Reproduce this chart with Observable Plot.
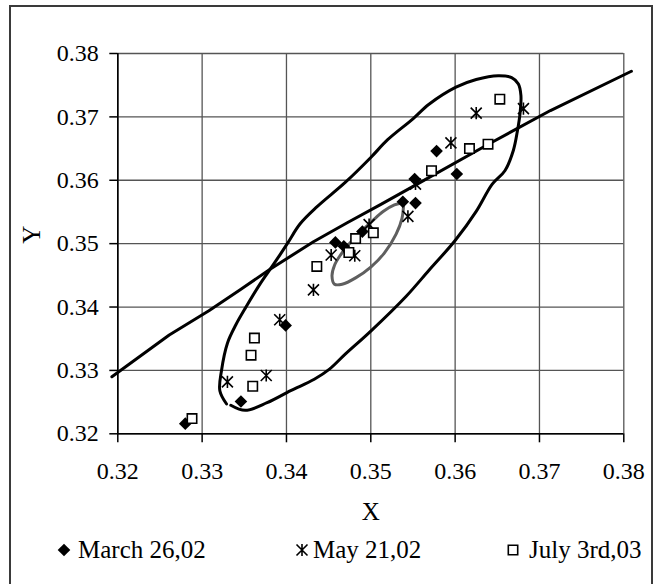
<!DOCTYPE html>
<html>
<head>
<meta charset="utf-8">
<script src="https://cdn.jsdelivr.net/npm/d3@7"></script>
<script src="https://cdn.jsdelivr.net/npm/@observablehq/plot@0.6"></script>
<style>
  html, body { margin: 0; padding: 0; background: #fff; }
  #wrap { position: relative; width: 654px; height: 584px; overflow: hidden; background: #fff; }
  #chart { position: absolute; left: 0; top: 0; }
  #legend { position: absolute; left: 0; top: 530px; }
  #border { position: absolute; left: 9px; top: 5px; width: 640px; height: 620px; border: 2px solid #3a3a3a; pointer-events: none; }
</style>
</head>
<body>
<div id="wrap">
  <div id="chart"></div>
  <svg id="legend" width="654" height="54"></svg>
  <div id="border"></div>
</div>
<script>
// ---- data ----
const xTicks = [0.32, 0.33, 0.34, 0.35, 0.36, 0.37, 0.38];
const yTicks = [0.32, 0.33, 0.34, 0.35, 0.36, 0.37, 0.38];
const seriesNames = ["March 26,02", "May 21,02", "July 3rd,03"];

const marchX = [0.3280, 0.3346, 0.3399, 0.3458, 0.3468, 0.3490, 0.3538, 0.3553, 0.3552, 0.3578, 0.3602];
const marchY = [0.3216, 0.3251, 0.3371, 0.3502, 0.3496, 0.3519, 0.3566, 0.3564, 0.3602, 0.3646, 0.3610];

const mayX = [0.3330, 0.3376, 0.3392, 0.3432, 0.3453, 0.3481, 0.3498, 0.3544, 0.3553, 0.3595, 0.3625, 0.3681];
const mayY = [0.3282, 0.3292, 0.3380, 0.3427, 0.3482, 0.3481, 0.3530, 0.3543, 0.3594, 0.3659, 0.3706, 0.3713];

const julyX = [0.3288, 0.3360, 0.3358, 0.3362, 0.3436, 0.3474, 0.3482, 0.3503, 0.3572, 0.3617, 0.3639, 0.3653];
const julyY = [0.3224, 0.3275, 0.3324, 0.3351, 0.3464, 0.3486, 0.3508, 0.3517, 0.3615, 0.3650, 0.3657, 0.3728];

// locus line
const locusX = [0.3193, 0.3261, 0.3308, 0.3346, 0.3381, 0.3432, 0.3472, 0.3512, 0.3555, 0.3641, 0.3713, 0.3809];
const locusY = [0.3290, 0.3356, 0.3394, 0.3428, 0.3460, 0.3503, 0.3533, 0.3562, 0.3594, 0.3658, 0.3710, 0.3772];

// outer ellipse (black)
const outerX = [0.3334, 0.3351, 0.3377, 0.3405, 0.3433, 0.3451, 0.3470, 0.3500, 0.3542, 0.3569, 0.3600, 0.3625, 0.3644, 0.3659, 0.3669, 0.3674, 0.3677, 0.3678, 0.3675, 0.3667, 0.3651, 0.3625, 0.3601, 0.3569, 0.3550, 0.3520, 0.3500, 0.3470, 0.3436, 0.3416, 0.3401, 0.3384, 0.3368, 0.3352, 0.3340, 0.3330, 0.3323, 0.3321, 0.3329];
const outerY = [0.3245, 0.3237, 0.3249, 0.3268, 0.3286, 0.3302, 0.3326, 0.3362, 0.3417, 0.3458, 0.3505, 0.3551, 0.3594, 0.3615, 0.3647, 0.3679, 0.3706, 0.3734, 0.3752, 0.3762, 0.3765, 0.3759, 0.3747, 0.3720, 0.3697, 0.3664, 0.3636, 0.3597, 0.3558, 0.3531, 0.3500, 0.3466, 0.3435, 0.3400, 0.3372, 0.3343, 0.3300, 0.3268, 0.3247];

// inner ellipse (gray)
const innerX = [0.3539, 0.3537, 0.3530, 0.3516, 0.3500, 0.3482, 0.3466, 0.3457, 0.3454, 0.3457, 0.3464, 0.3474, 0.3487, 0.3502, 0.3515, 0.3528, 0.3539];
const innerY = [0.3565, 0.3540, 0.3515, 0.3485, 0.3463, 0.3446, 0.3436, 0.3436, 0.3449, 0.3466, 0.3482, 0.3499, 0.3517, 0.3536, 0.3551, 0.3561, 0.3565];

// ---- build tables ----
const pts = (xs, ys) => xs.map((x, i) => ({x, y: ys[i]}));
const march = pts(marchX, marchY);
const may = pts(mayX, mayY);
const july = pts(julyX, julyY);
const locus = pts(locusX, locusY);
const outer = pts(outerX, outerY);
const inner = pts(innerX, innerY);

// custom Excel-like markers
const diamondSym = { draw(ctx, size) { const r = Math.sqrt(size / Math.PI); ctx.moveTo(0, -r); ctx.lineTo(r, 0); ctx.lineTo(0, r); ctx.lineTo(-r, 0); ctx.closePath(); } };
const squareSym = { draw(ctx, size) { const r = Math.sqrt(size / Math.PI); ctx.rect(-r, -r, 2 * r, 2 * r); } };
const starSym = { draw(ctx, size) { const r = Math.sqrt(size / Math.PI); ctx.moveTo(-r, -r); ctx.lineTo(r, r); ctx.moveTo(r, -r); ctx.lineTo(-r, r); ctx.moveTo(0, -r * 1.1); ctx.lineTo(0, r * 1.1); } };

const font = "'Liberation Serif', 'Times New Roman', serif";
const gridColor = "#555";

const chart = Plot.plot({
  width: 654,
  height: 530,
  marginLeft: 117.3,
  marginRight: 30.7,
  marginTop: 53,
  marginBottom: 96.7,
  style: { fontFamily: font, background: "transparent", color: "black" },
  x: { domain: [0.32, 0.38] },
  y: { domain: [0.32, 0.38] },
  marks: [
    Plot.gridX(xTicks, { stroke: gridColor, strokeOpacity: 1, strokeWidth: 1.3 }),
    Plot.gridY(yTicks, { stroke: gridColor, strokeOpacity: 1, strokeWidth: 1.3 }),
    Plot.ruleX([0.32], { stroke: "black", strokeWidth: 1.6 }),
    Plot.ruleY([0.32], { stroke: "black", strokeWidth: 1.6 }),
    Plot.axisX({ ticks: xTicks, tickFormat: d => d.toFixed(2), tickSize: 9, tickPadding: 19, fontSize: 24, label: null, stroke: "black", strokeWidth: 1.5 }),
    Plot.axisY({ ticks: yTicks, tickFormat: d => d.toFixed(2), tickSize: 8, tickPadding: 11, fontSize: 24, label: null, stroke: "black", strokeWidth: 1.5 }),
    Plot.line(outer, { x: "x", y: "y", stroke: "black", strokeWidth: 3, curve: "catmull-rom" }),
    Plot.line(locus, { x: "x", y: "y", stroke: "black", strokeWidth: 3, curve: "linear", clip: false }),
    Plot.line(inner, { x: "x", y: "y", stroke: "#5f5f5f", strokeWidth: 3, curve: "catmull-rom" }),
    Plot.dot(march, { x: "x", y: "y", symbol: diamondSym, r: 6.3, fill: "black", stroke: "none" }),
    Plot.dot(may, { x: "x", y: "y", symbol: starSym, r: 5.5, fill: "none", stroke: "black", strokeWidth: 1.6 }),
    Plot.dot(july, { x: "x", y: "y", symbol: squareSym, r: 4.7, fill: "white", stroke: "black", strokeWidth: 1.6 }),
    Plot.text(["X"], { frameAnchor: "bottom", dy: 86, fontSize: 25, fill: "black" }),
    Plot.text(["Y"], { frameAnchor: "left", dx: -86, rotate: -90, fontSize: 25, fill: "black" })
  ]
});
document.getElementById("chart").appendChild(chart);

// ---- legend ----
const legendSvg = d3.select("#legend");
const legendPos = [{sx: 64, tx: 78}, {sx: 302, tx: 313}, {sx: 513, tx: 529}];
const legendSyms = [diamondSym, starSym, squareSym];
const legendStyle = [
  { fill: "black", stroke: "none", sw: 0, size: Math.PI * 6.3 * 6.3 },
  { fill: "none", stroke: "black", sw: 1.6, size: Math.PI * 5.5 * 5.5 },
  { fill: "white", stroke: "black", sw: 1.6, size: Math.PI * 4.7 * 4.7 }
];
seriesNames.forEach((name, i) => {
  const p = d3.path();
  legendSyms[i].draw(p, legendStyle[i].size);
  legendSvg.append("path")
    .attr("d", p.toString())
    .attr("transform", `translate(${legendPos[i].sx},20)`)
    .attr("fill", legendStyle[i].fill)
    .attr("stroke", legendStyle[i].stroke)
    .attr("stroke-width", legendStyle[i].sw);
  legendSvg.append("text")
    .attr("x", legendPos[i].tx)
    .attr("y", 28)
    .attr("font-family", font)
    .attr("font-size", 25)
    .attr("fill", "black")
    .text(name);
});
</script>
</body>
</html>
